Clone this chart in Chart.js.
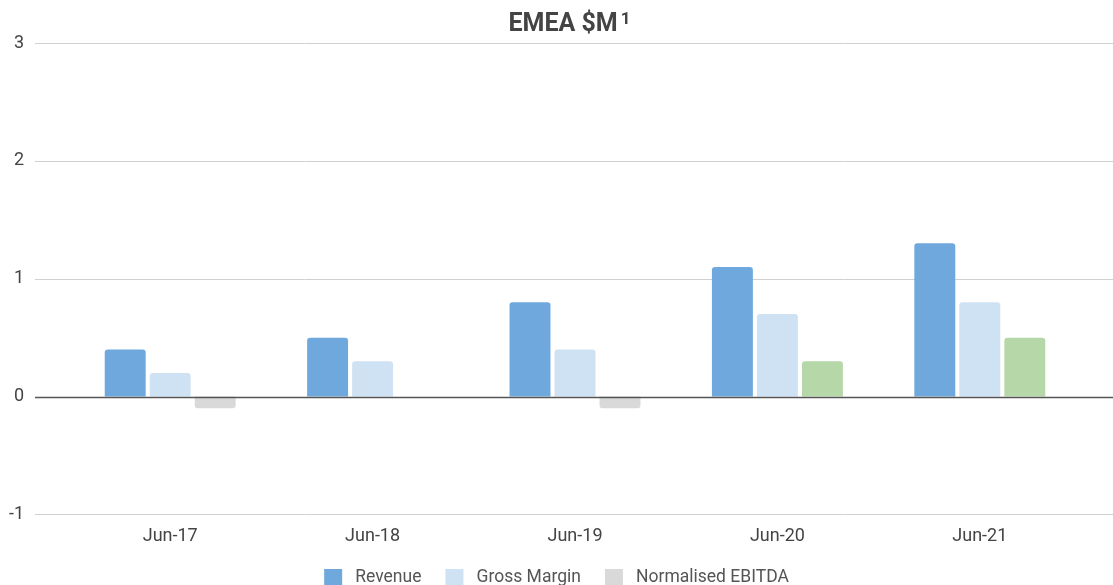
<!DOCTYPE html>
<html>
<head>
<meta charset="utf-8">
<title>EMEA $M</title>
<script src="https://cdn.jsdelivr.net/npm/chart.js@4.4.1/dist/chart.umd.min.js"></script>
<style>
  html, body { margin: 0; padding: 0; background: #fff; }
  #wrap { width: 1113px; height: 585px; }
</style>
</head>
<body>
<div id="wrap"><canvas id="emeaChart"></canvas></div>
<script>
const periods = ['Jun-17', 'Jun-18', 'Jun-19', 'Jun-20', 'Jun-21'];
const revenue = [0.4, 0.5, 0.8, 1.1, 1.3];
const grossMargin = [0.2, 0.3, 0.4, 0.7, 0.8];
const ebitda = [-0.1, 0, -0.1, 0.3, 0.5];
const yTicks = [-1, 0, 1, 2, 3];
const titleText = 'EMEA $M';
const titleNote = '1';

// horizontal grid lines run the full width, past the plot area,
// with the value labels sitting at their left end
const fullGrid = {
	id: 'fullGrid',
	beforeDatasetsDraw(chart) {
		const y = chart.scales.y;
		const c = chart.ctx;
		c.save();
		c.strokeStyle = '#d0d0d0';
		c.lineWidth = 1;
		yTicks.forEach(v => {
			if (v === 0) return;
			const py = Math.round(y.getPixelForValue(v)) + 0.5;
			c.beginPath();
			c.moveTo(35, py);
			c.lineTo(chart.width, py);
			c.stroke();
		});
		c.fillStyle = '#444';
		c.font = '18px Roboto, sans-serif';
		c.textAlign = 'right';
		c.textBaseline = 'middle';
		yTicks.forEach(v => c.fillText(String(v), 24, y.getPixelForValue(v)));
		c.restore();
	},
	afterDatasetsDraw(chart) {
		const y = chart.scales.y;
		const c = chart.ctx;
		const py = Math.round(y.getPixelForValue(0)) + 0.5;
		c.save();
		c.strokeStyle = '#555';
		c.lineWidth = 1.5;
		c.beginPath();
		c.moveTo(35, py);
		c.lineTo(chart.width, py);
		c.stroke();
		c.restore();
	}
};

// title with a raised footnote marker
const noteTitle = {
	id: 'noteTitle',
	afterDraw(chart) {
		const c = chart.ctx;
		const area = chart.chartArea;
		const big = 'bold 25px Roboto, sans-serif';
		const small = 'bold 17px Roboto, sans-serif';
		c.save();
		c.fillStyle = '#444';
		c.textBaseline = 'alphabetic';
		c.textAlign = 'left';
		c.font = big;
		const w1 = c.measureText(titleText).width;
		c.font = small;
		const w2 = c.measureText(titleNote).width + 3;
		const x0 = (area.left + area.right) / 2 - 5.5 - (w1 + w2) / 2;
		c.font = big;
		c.fillText(titleText, x0, 31);
		c.font = small;
		c.fillText(titleNote, x0 + w1 + 3, 24);
		c.restore();
	}
};

document.addEventListener('DOMContentLoaded', function () {
	const ctx = document.getElementById('emeaChart').getContext('2d');
	Chart.defaults.font.family = 'Roboto, sans-serif';
	Chart.defaults.color = '#444';

	new Chart(ctx, {
		type: 'bar',
		data: {
			labels: periods,
			datasets: [{
				label: 'Revenue',
				data: revenue,
				backgroundColor: '#6fa8dc'
			}, {
				label: 'Gross Margin',
				data: grossMargin,
				backgroundColor: '#cfe2f3'
			}, {
				label: 'Normalised EBITDA',
				data: ebitda,
				// green when positive, grey otherwise (legend uses grey)
				backgroundColor: c => (c.raw > 0 ? '#b6d7a8' : '#d9d9d9')
			}]
		},
		options: {
			responsive: true,
			maintainAspectRatio: false,
			animation: false,
			categoryPercentage: 0.667,
			barPercentage: 0.91,
			borderRadius: 3,
			layout: {
				padding: { left: 32, right: 32, top: 43, bottom: 0 }
			},
			plugins: {
				title: { display: false },
				legend: {
					position: 'bottom',
					maxHeight: 27,
					labels: {
						boxWidth: 18,
						boxHeight: 18,
						padding: 11,
						color: '#555',
						font: { size: 17.5 },
						// a little more air around each entry
						generateLabels: chart => {
							const items = Chart.defaults.plugins.legend.labels.generateLabels(chart);
							items.forEach((it, i) => {
								it.text = ' ' + it.text + (i < items.length - 1 ? '   ' : '');
							});
							return items;
						}
					}
				},
				tooltip: { enabled: false }
			},
			scales: {
				x: {
					grid: { display: false, drawTicks: false },
					border: { display: false },
					ticks: { padding: 11, font: { size: 18 }, color: '#444' }
				},
				y: {
					min: -1,
					max: 3,
					afterBuildTicks: s => { s.ticks = yTicks.map(v => ({ value: v })); },
					afterFit: s => { s.width = 37; },
					grid: { display: false, drawTicks: false },
					border: { display: false },
					ticks: { display: false }
				}
			}
		},
		plugins: [fullGrid, noteTitle]
	});
});
</script>
</body>
</html>
